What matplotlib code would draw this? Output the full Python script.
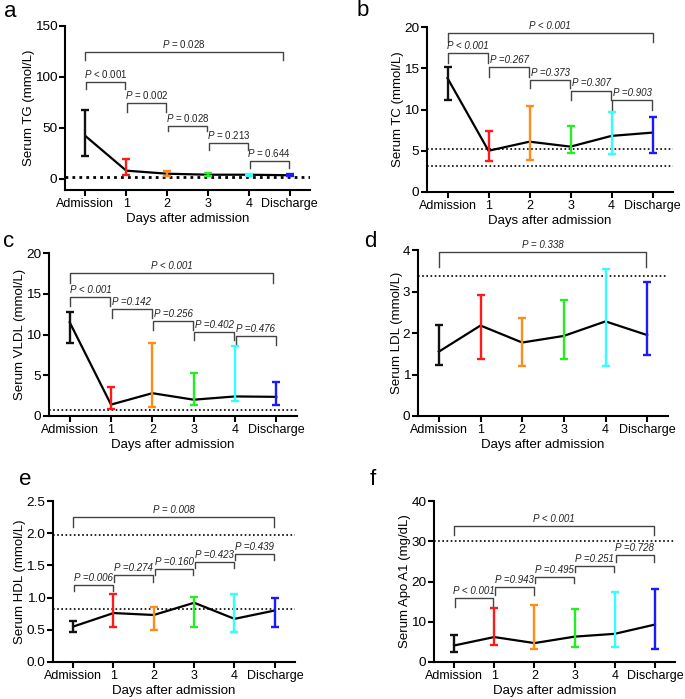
import matplotlib
matplotlib.use("Agg")
import matplotlib.pyplot as plt
from matplotlib.ticker import FormatStrFormatter

plt.rcParams['font.family'] = ['Liberation Sans', 'DejaVu Sans']
plt.rcParams['mathtext.fontset'] = 'custom'
plt.rcParams['mathtext.rm'] = 'Liberation Sans'
plt.rcParams['mathtext.it'] = 'Liberation Sans:italic'

categories = ["Admission", "1", "2", "3", "4", "Discharge"]
colors = ["#111111", "#FF1A1A", "#FF8C1A", "#22EE22", "#33FFFF", "#1A1AFF"]

# Panel a: TG
tg_mean = [42, 8, 5, 4, 4, 3.5]
tg_lo = [22, 4, 3, 2.5, 3, 2.5]
tg_hi = [68, 19, 8, 6, 5, 5]
tg_ref = [1.7]
tg_p = ["= 0.028", "< 0.001", "= 0.002", "= 0.028", "= 0.213", "= 0.644"]
tg_top = [124.5, 95, 74.5, 52, 35, 17]
tg_leg = [116.6, 88, 65.7, 47, 28, 11]

# Panel b: TC
tc_mean = [13.8, 5.0, 6.1, 5.5, 6.8, 7.2]
tc_lo = [11.2, 3.8, 3.9, 4.7, 4.6, 4.7]
tc_hi = [15.2, 7.4, 10.4, 8.0, 9.7, 9.1]
tc_ref = [5.2, 3.1]
tc_p = ["< 0.001", "< 0.001", "=0.267", "=0.373", "=0.307", "=0.903"]
tc_top = [19.3, 16.8, 15.2, 13.6, 12.3, 11.1]
tc_leg = [18.2, 15.6, 14.0, 12.6, 11.1, 9.9]

# Panel c: VLDL
vldl_mean = [11.5, 1.4, 2.8, 2.0, 2.4, 2.35]
vldl_lo = [9.0, 0.9, 1.1, 1.4, 1.8, 1.4]
vldl_hi = [12.7, 3.6, 9.0, 5.3, 8.6, 4.2]
vldl_ref = [0.75]
vldl_p = ["< 0.001", "< 0.001", "=0.142", "=0.256", "=0.402", "=0.476"]
vldl_top = [17.5, 14.6, 13.1, 11.7, 10.3, 9.85]
vldl_leg = [16.3, 13.5, 12.0, 10.6, 9.3, 8.7]

# Panel d: LDL
ldl_mean = [1.55, 2.18, 1.77, 1.93, 2.28, 1.95]
ldl_lo = [1.23, 1.37, 1.2, 1.37, 1.2, 1.47]
ldl_hi = [2.2, 2.92, 2.37, 2.8, 3.55, 3.22]
ldl_ref = [3.37]
ldl_p = ["= 0.338"]
ldl_top = [3.95]
ldl_leg = [3.6]

# Panel e: HDL
hdl_mean = [0.55, 0.76, 0.73, 0.92, 0.67, 0.80]
hdl_lo = [0.47, 0.54, 0.49, 0.54, 0.47, 0.55]
hdl_hi = [0.64, 1.05, 0.86, 1.01, 1.06, 1.0]
hdl_ref = [0.83, 1.97]
hdl_p = ["= 0.008", "=0.006", "=0.274", "=0.160", "=0.423", "=0.439"]
hdl_top = [2.25, 1.19, 1.35, 1.44, 1.55, 1.67]
hdl_leg = [2.10, 1.10, 1.24, 1.35, 1.46, 1.59]

# Panel f: Apo A1
apo_mean = [4.1, 6.2, 4.7, 6.3, 7.0, 9.3]
apo_lo = [2.5, 4.3, 3.2, 3.8, 3.8, 3.2]
apo_hi = [6.6, 13.4, 14.1, 13.2, 17.5, 18.2]
apo_ref = [30]
apo_p = ["< 0.001", "< 0.001", "=0.943", "=0.495", "=0.251", "=0.728"]
apo_top = [33.7, 15.9, 18.6, 21.1, 23.9, 26.5]
apo_leg = [31.5, 13.7, 16.7, 19.6, 22.3, 24.8]

# comparisons: overall, then consecutive
pairs_full = [(0, 5), (0, 1), (1, 2), (2, 3), (3, 4), (4, 5)]
pairs_overall = [(0, 5)]

W, H = 685, 699
fig = plt.figure(figsize=(W / 100, H / 100), dpi=100)


def add_ax(left, top, right, bottom):
    return fig.add_axes([left / W, 1 - bottom / H, (right - left) / W, (bottom - top) / H])


def panel(ax, mean, lo, hi, ref, pvals, tops, legs, pairs, ylim, yticks, ylabel,
          letter, letter_xy, italic_all=True, ref_lw=1.2, right_trim=0.0, fmt=None):
    x = list(range(len(categories)))
    for r in ref:
        ax.axhline(r, color='black', ls=(0, (1, 1.5)), lw=ref_lw, zorder=1)
    ax.plot(x, mean, color='black', lw=1.6, zorder=3)
    for i in x:
        ax.errorbar(i, mean[i], yerr=[[mean[i] - lo[i]], [hi[i] - mean[i]]], fmt='none',
                    ecolor=colors[i], elinewidth=1.7, capsize=3.2, capthick=1.7, zorder=4)
    for k, (i, j) in enumerate(pairs):
        x1 = i + 0.02
        x2 = j - 0.02
        if (i, j) == (0, 5):
            x1, x2 = i, j - right_trim
        ax.plot([x1, x1, x2, x2], [legs[k], tops[k], tops[k], legs[k]],
                color='#444444', lw=1.0, zorder=2, clip_on=False)
        if italic_all:
            txt = "P " + pvals[k]
            ax.annotate(txt, ((x1 + x2) / 2, tops[k]), xytext=(0, 1.5),
                        textcoords='offset points', ha='center', va='bottom',
                        fontsize=7, fontstyle='italic', color='#222222',
                        annotation_clip=False)
        else:
            txt = r"$\it{P}$ " + pvals[k]
            ax.annotate(txt, ((x1 + x2) / 2, tops[k]), xytext=(0, 1.5),
                        textcoords='offset points', ha='center', va='bottom',
                        fontsize=7, color='#222222', annotation_clip=False)
    ax.set_xlim(-0.5, 5.5)
    ax.set_ylim(*ylim)
    ax.set_yticks(yticks)
    if fmt:
        ax.yaxis.set_major_formatter(FormatStrFormatter(fmt))
    ax.set_xticks(x)
    ax.set_xticklabels(categories)
    ax.spines['top'].set_visible(False)
    ax.spines['right'].set_visible(False)
    for s in ('left', 'bottom'):
        ax.spines[s].set_linewidth(1.5)
    ax.tick_params(axis='both', width=1.5, length=4, pad=2)
    ax.tick_params(axis='x', labelsize=9)
    ax.tick_params(axis='y', labelsize=9.7, pad=1.5)
    ax.set_xlabel("Days after admission", fontsize=9.5, labelpad=2)
    ax.set_ylabel(ylabel, fontsize=9.5, labelpad=0)
    fig.text(letter_xy[0] / W, 1 - letter_xy[1] / H, letter, fontsize=16,
             va='top', ha='left')


axa = add_ax(65, 26, 310, 190)
panel(axa, tg_mean, tg_lo, tg_hi, tg_ref, tg_p, tg_top, tg_leg, pairs_full,
      (-11, 150), [0, 50, 100, 150], "Serum TG (mmol/L)", "a", (4, 1), italic_all=False,
      ref_lw=2.0, right_trim=0.17)

axb = add_ax(427, 27, 673, 192)
panel(axb, tc_mean, tc_lo, tc_hi, tc_ref, tc_p, tc_top, tc_leg, pairs_full,
      (0, 20), [0, 5, 10, 15, 20], "Serum TC (mmol/L)", "b", (357, 0))

axc = add_ax(49, 253, 297, 416)
panel(axc, vldl_mean, vldl_lo, vldl_hi, vldl_ref, vldl_p, vldl_top, vldl_leg, pairs_full,
      (0, 20), [0, 5, 10, 15, 20], "Serum VLDL (mmol/L)", "c", (3, 231), right_trim=0.08)

axd = add_ax(418, 250, 668, 416)
panel(axd, ldl_mean, ldl_lo, ldl_hi, ldl_ref, ldl_p, ldl_top, ldl_leg, pairs_overall,
      (0, 4), [0, 1, 2, 3, 4], "Serum LDL (mmol/L)", "d", (364, 231), right_trim=0.03)

axe = add_ax(53, 501, 295, 662)
panel(axe, hdl_mean, hdl_lo, hdl_hi, hdl_ref, hdl_p, hdl_top, hdl_leg, pairs_full,
      (0, 2.5), [0, 0.5, 1.0, 1.5, 2.0, 2.5], "Serum HDL (mmol/L)", "e", (19, 469),
      right_trim=0.03, fmt='%.1f')

axf = add_ax(434, 501, 675, 662)
panel(axf, apo_mean, apo_lo, apo_hi, apo_ref, apo_p, apo_top, apo_leg, pairs_full,
      (0, 40), [0, 10, 20, 30, 40], "Serum Apo A1 (mg/dL)", "f", (370, 469),
      right_trim=0.03)

fig.savefig("out.png", dpi=100)
